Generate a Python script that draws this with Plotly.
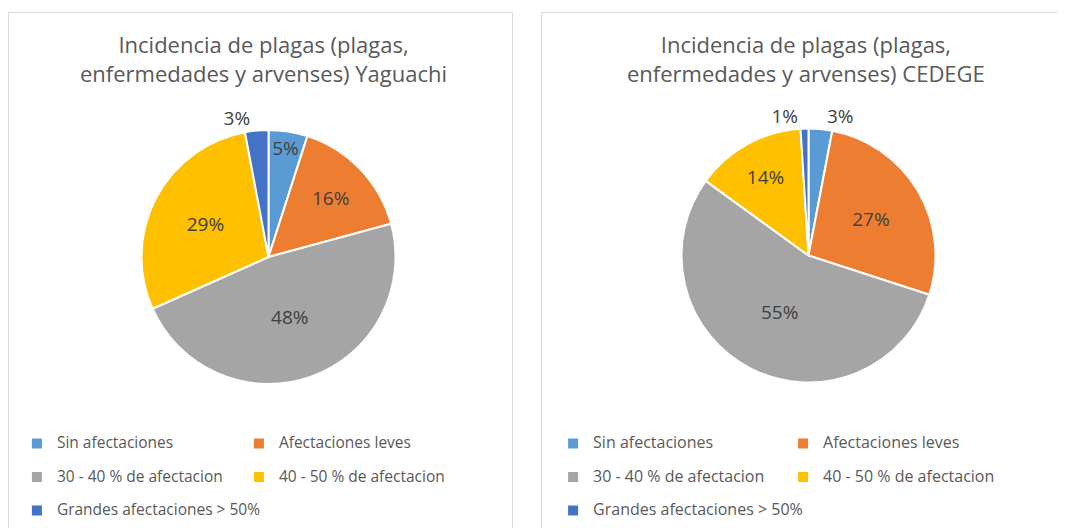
import plotly.graph_objects as go

categories = ["Sin afectaciones", "Afectaciones leves", "30 - 40 % de afectacion",
              "40 - 50 % de afectacion", "Grandes afectaciones > 50%"]
yaguachi = [5, 16, 48, 29, 3]
cedege = [3, 27, 55, 14, 1]
titles = ["Incidencia de plagas (plagas,<br>enfermedades y arvenses) Yaguachi",
          "Incidencia de plagas (plagas,<br>enfermedades y arvenses) CEDEGE"]
colors = ["#5B9BD5", "#ED7D31", "#A5A5A5", "#FFC000", "#4472C4"]

OFF = 8                      # page body margin of the written html
W, H = 1065 - OFF, 528 - OFF
ML, MR = 9, 52
GW = W - ML - MR
FONT = "Open Sans"


def px_x(p):
    return (p - OFF - ML) / GW


def px_y(p):
    return (H - (p - OFF)) / H


def legend_labels(size):
    return [f'<span style="font-size:{size}px">{c}</span><br>\u00a0' for c in categories]


R = 127
fig = go.Figure()
fig.add_trace(go.Pie(
    labels=legend_labels(15.5), values=yaguachi, sort=False, direction="clockwise", rotation=0,
    marker=dict(colors=colors, line=dict(color="white", width=2)),
    texttemplate="%{value}%", textposition=["inside", "inside", "inside", "inside", "outside"],
    insidetextorientation="horizontal",
    textfont=dict(family=FONT, size=19, color="#404040"),
    domain=dict(x=[px_x(268.5 - R), px_x(268.5 + R)], y=[px_y(257 + R), px_y(257 - R)]),
    hoverinfo="skip", legend="legend",
))
fig.add_trace(go.Pie(
    labels=legend_labels(16), values=cedege, sort=False, direction="clockwise", rotation=0,
    marker=dict(colors=colors, line=dict(color="white", width=2)),
    texttemplate="%{value}%", textposition=["outside", "inside", "inside", "inside", "outside"],
    insidetextorientation="horizontal",
    textfont=dict(family=FONT, size=19, color="#404040"),
    domain=dict(x=[px_x(808.5 - R), px_x(808.5 + R)], y=[px_y(255.5 + R), px_y(255.5 - R)]),
    hoverinfo="skip", legend="legend2",
))

leg_common = dict(orientation="h", yanchor="top", y=px_y(429.3), bgcolor="rgba(0,0,0,0)",
                  borderwidth=0, valign="top", traceorder="normal",
                  font=dict(family=FONT, size=11.73, color="#595959"))

fig.update_layout(
    width=W, height=H,
    margin=dict(l=ML, r=MR, t=0, b=0, autoexpand=False),
    paper_bgcolor="white", plot_bgcolor="white",
    uniformtext=dict(minsize=19, mode="show"),
    legend=dict(**leg_common, x=-0.0001, xanchor="left", entrywidth=177),
    legend2=dict(**leg_common, x=1.0001, xanchor="right", entrywidth=185),
    shapes=[
        dict(type="rect", xref="paper", yref="paper", x0=px_x(8.5), x1=px_x(512.5),
             y0=-0.1, y1=px_y(12.5), line=dict(color="#D9D9D9", width=1), layer="below"),
        dict(type="rect", xref="paper", yref="paper", x0=px_x(541.5), x1=px_x(1080),
             y0=-0.1, y1=px_y(12.5), line=dict(color="#D9D9D9", width=1), layer="below"),
    ],
    annotations=[
        dict(text=titles[0], xref="paper", yref="paper", x=px_x(263), y=px_y(59),
             xanchor="center", yanchor="middle", showarrow=False,
             font=dict(family=FONT, size=22, color="#595959")),
        dict(text=titles[1], xref="paper", yref="paper", x=px_x(806), y=px_y(59),
             xanchor="center", yanchor="middle", showarrow=False,
             font=dict(family=FONT, size=22, color="#595959")),
    ],
)

fig.write_html("out.html")
